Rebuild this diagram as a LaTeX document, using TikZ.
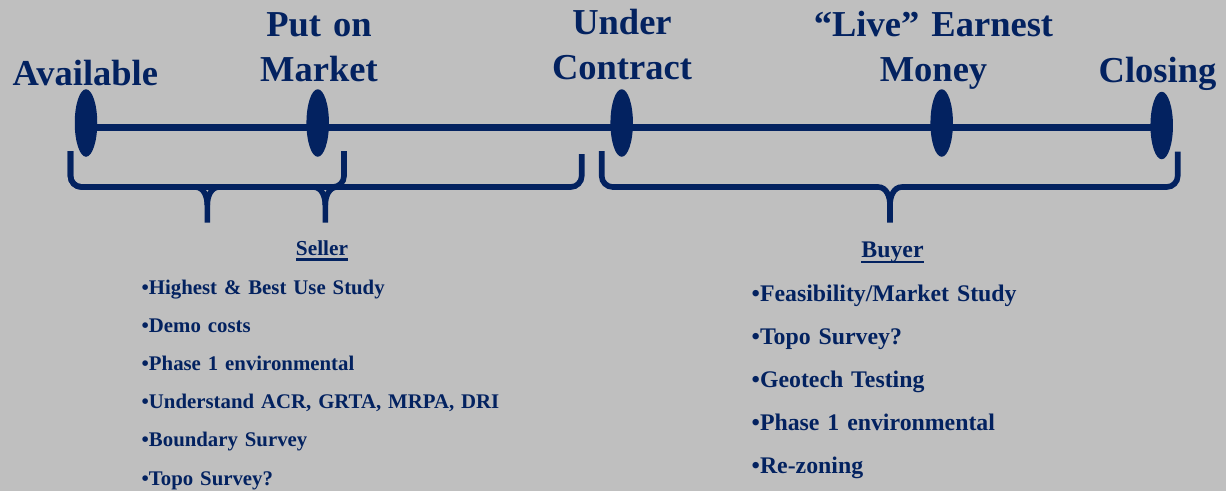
\documentclass[tikz,border=0pt]{standalone}
\usepackage{fontspec}
\setmainfont{Liberation Serif}
\usetikzlibrary{shapes.geometric}

\definecolor{navy}{RGB}{3,34,96}
\definecolor{panel}{RGB}{191,191,191}

\tikzset{
  milestone/.style={ellipse, fill=navy, inner sep=0pt,
    minimum width=22.5pt, minimum height=67.5pt},
  timeline/.style={draw=navy, line width=6.3pt},
  bracestroke/.style={draw=navy, line width=5.6pt},
  stagelabel/.style={text=navy, inner sep=0pt, anchor=base,
    text width=320pt, align=center,
    font=\fontsize{36.5}{45}\selectfont\bfseries},
  listhead/.style={text=navy, inner sep=0pt, anchor=base, font=#1\bfseries},
  listbody/.style={text=navy, inner sep=0pt, anchor=base west,
    text width=420pt, align=left, font=#1\bfseries},
  headrule/.style={draw=navy, line width=2.4pt}
}

% brace: left x, right x, tip x, top y of the right arm
\newcommand\stagebrace[4]{%
  \draw[bracestroke] (#1,151) -- (#1,176) to[out=-90,in=180] (#1+11,187)
    -- (#3-12,187) to[out=0,in=90] (#3,205) -- (#3,222.5);
  \draw[bracestroke] (#2,#4) -- (#2,176) to[out=-90,in=0] (#2-11,187)
    -- (#3+12,187) to[out=180,in=90] (#3,205);
}

\begin{document}
\begin{tikzpicture}[x=1pt,y=-1pt]
  \fill[panel] (0,0) rectangle (1226,491);
  \useasboundingbox (0,0) rectangle (1226,491);

  % stage names
  \node[stagelabel] (lavail) at (85.4,85) {Available};
  \node[stagelabel] (lmarket) at (319,36) {Put on\\Market};
  \node[stagelabel] (lcontract) at (622,34.3) {Under\\Contract};
  \node[stagelabel] (lmoney) at (933.5,36.7) {“Live” Earnest\\Money};
  \node[stagelabel] (lclose) at (1157.5,82.7) {Closing};

  % timeline with milestones
  \coordinate (lineL) at (86,127.5);
  \coordinate (lineR) at (1161.7,127.5);
  \draw[timeline] (lineL) -- (lineR);
  \node[milestone] (e1) at (86,123) {};
  \node[milestone] (e2) at (317.7,123) {};
  \node[milestone] (e3) at (621.7,123) {};
  \node[milestone] (e4) at (941.7,123) {};
  \node[milestone] (e5) at (1161.7,125.5) {};

  % braces grouping the phases
  \stagebrace{70.5}{344}{207.3}{151}
  \stagebrace{70.5}{581.7}{325.3}{154}
  \stagebrace{601.7}{1177.7}{890}{151.7}

  % seller tasks
  \node[listhead=\fontsize{21.3}{25}\selectfont] (seller) at (322,255) {Seller};
  \draw[headrule] ([yshift=-4.6pt]seller.base west) -- ([yshift=-4.6pt]seller.base east);
  \node[listbody=\fontsize{20.8}{38.2}\selectfont] (sellerlist) at (141.5,294) {%
    •Highest \& Best Use Study\\
    •Demo costs\\
    •Phase 1 environmental\\
    •Understand ACR, GRTA, MRPA, DRI\\
    •Boundary Survey\\
    •Topo Survey?};

  % buyer tasks
  \node[listhead=\fontsize{23.8}{28}\selectfont] (buyer) at (892.5,257) {Buyer};
  \draw[headrule] ([yshift=-5pt]buyer.base west) -- ([yshift=-5pt]buyer.base east);
  \node[listbody=\fontsize{23.8}{43.1}\selectfont] (buyerlist) at (751.5,301) {%
    •Feasibility/Market Study\\
    •Topo Survey?\\
    •Geotech Testing\\
    •Phase 1 environmental\\
    •Re-zoning};
\end{tikzpicture}
\end{document}
